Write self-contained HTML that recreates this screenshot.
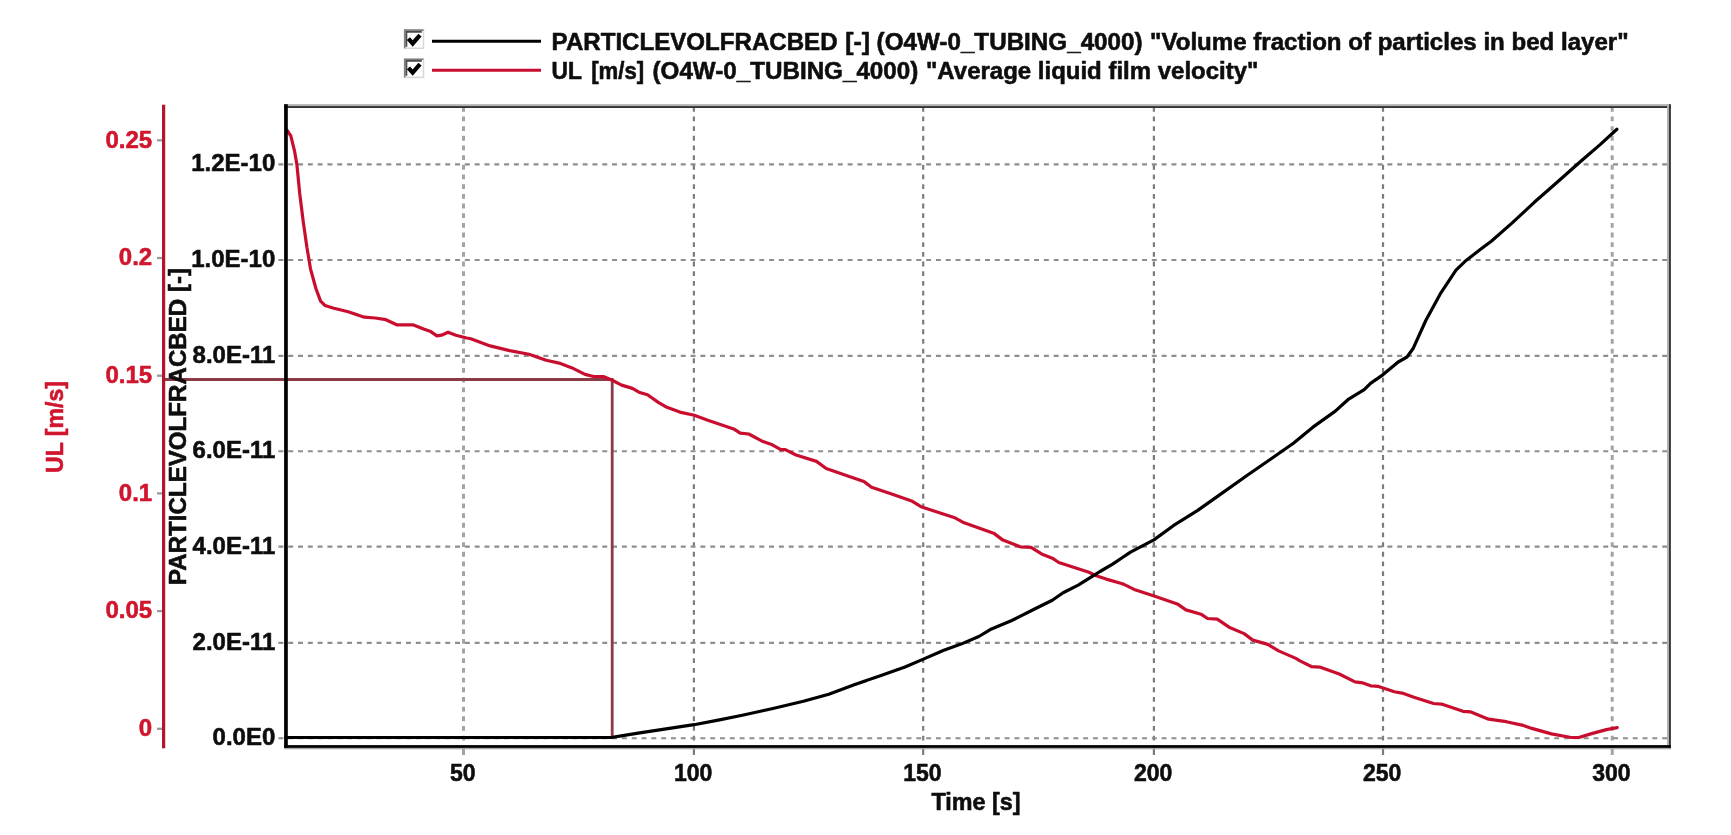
<!DOCTYPE html>
<html><head><meta charset="utf-8"><title>Chart</title>
<style>html,body{margin:0;padding:0;background:#fff}svg{display:block}text{font-family:"Liberation Sans",sans-serif;font-weight:bold;stroke-width:0.55px;paint-order:stroke;stroke-linejoin:round}</style></head><body>
<svg width="1731" height="835" viewBox="0 0 1731 835">
<defs><filter id="b" x="-5%" y="-5%" width="110%" height="110%"><feGaussianBlur stdDeviation="0.65"/></filter></defs>
<rect width="1731" height="835" fill="#fff"/>
<g filter="url(#b)">
<line x1="463.5" y1="106.8" x2="463.5" y2="745" stroke="#a4a4a4" stroke-width="3.0" stroke-dasharray="4.84 4.835"/>
<line x1="463.5" y1="747" x2="463.5" y2="755" stroke="#a4a4a4" stroke-width="3.0"/>
<line x1="693.9" y1="106.8" x2="693.9" y2="745" stroke="#7c7c7c" stroke-width="2.2" stroke-dasharray="4.84 4.835"/>
<line x1="693.9" y1="747" x2="693.9" y2="755" stroke="#7c7c7c" stroke-width="2.2"/>
<line x1="923.2" y1="106.8" x2="923.2" y2="745" stroke="#7c7c7c" stroke-width="2.2" stroke-dasharray="4.84 4.835"/>
<line x1="923.2" y1="747" x2="923.2" y2="755" stroke="#7c7c7c" stroke-width="2.2"/>
<line x1="1153.9" y1="106.8" x2="1153.9" y2="745" stroke="#7c7c7c" stroke-width="2.2" stroke-dasharray="4.84 4.835"/>
<line x1="1153.9" y1="747" x2="1153.9" y2="755" stroke="#7c7c7c" stroke-width="2.2"/>
<line x1="1383" y1="106.8" x2="1383" y2="745" stroke="#7c7c7c" stroke-width="2.2" stroke-dasharray="4.84 4.835"/>
<line x1="1383" y1="747" x2="1383" y2="755" stroke="#7c7c7c" stroke-width="2.2"/>
<line x1="1612.2" y1="106.8" x2="1612.2" y2="745" stroke="#a4a4a4" stroke-width="3.0" stroke-dasharray="4.84 4.835"/>
<line x1="1612.2" y1="747" x2="1612.2" y2="755" stroke="#a4a4a4" stroke-width="3.0"/>
<line x1="278.4" y1="738.3" x2="1668" y2="738.3" stroke="#8e8e8e" stroke-width="2.1" stroke-dasharray="4.95 4.864"/>
<line x1="278.4" y1="642.9" x2="1668" y2="642.9" stroke="#8e8e8e" stroke-width="2.1" stroke-dasharray="4.95 4.864"/>
<line x1="278.4" y1="546.6" x2="1668" y2="546.6" stroke="#8e8e8e" stroke-width="2.1" stroke-dasharray="4.95 4.864"/>
<line x1="278.4" y1="451.3" x2="1668" y2="451.3" stroke="#8e8e8e" stroke-width="2.1" stroke-dasharray="4.95 4.864"/>
<line x1="278.4" y1="355.9" x2="1668" y2="355.9" stroke="#8e8e8e" stroke-width="2.1" stroke-dasharray="4.95 4.864"/>
<line x1="278.4" y1="260.0" x2="1668" y2="260.0" stroke="#8e8e8e" stroke-width="2.1" stroke-dasharray="4.95 4.864"/>
<line x1="278.4" y1="164.4" x2="1668" y2="164.4" stroke="#8e8e8e" stroke-width="2.1" stroke-dasharray="4.95 4.864"/>
<line x1="163" y1="379.5" x2="613.5" y2="379.5" stroke="#8a3a44" stroke-width="2.8"/>
<line x1="612.2" y1="379.5" x2="612.2" y2="738" stroke="#8a3a44" stroke-width="2.8"/>
<path d="M287.2,130.5 L290.8,135.9 L294.4,150.3 L296.9,164.6 L299.7,193.4 L303.3,222.1 L306.9,247.2 L310.5,268.8 L315.9,288.5 L320.6,301.1 L324.9,305.4 L333.9,308.3 L348.2,311.8 L364.4,317.2 L375.2,318.0 L385.9,319.7 L396.7,324.8 L412.9,324.8 L423.6,329.1 L430.8,331.6 L436.9,335.9 L441.6,335.2 L448.0,332.3 L455.9,335.2 L466.7,338.0 L470.8,338.8 L490.2,345.9 L509.6,350.6 L529.0,354.3 L546.2,360.3 L559.1,363.1 L572.1,367.9 L585.0,374.4 L593.6,376.5 L603.3,376.5 L612.2,380.2 L621.6,385.1 L632.4,388.4 L638.9,392.2 L647.5,394.8 L658.3,402.4 L666.9,407.3 L679.8,412.1 L694.3,415.3 L707.8,420.3 L733.7,428.9 L740.2,433.2 L748.8,434.0 L761.6,440.9 L772.3,444.8 L780.9,449.6 L785.3,449.6 L796.0,455.0 L816.5,461.4 L826.2,468.5 L847.8,475.9 L863.9,481.5 L871.5,487.3 L890.9,493.8 L912.4,501.3 L921.0,506.7 L955.5,518.1 L964.1,522.8 L994.3,533.6 L1002.9,540.1 L1020.2,546.8 L1031.0,547.3 L1041.6,553.9 L1052.3,558.2 L1058.8,562.5 L1089.0,572.2 L1095.4,575.4 L1106.2,579.1 L1123.4,584.1 L1134.2,589.4 L1154.1,595.9 L1177.3,603.9 L1185.9,609.9 L1201.0,614.2 L1207.5,618.5 L1217.2,619.2 L1229.1,627.2 L1244.1,633.6 L1252.8,640.1 L1267.8,644.4 L1278.6,650.9 L1295.9,658.4 L1300.0,660.9 L1311.8,666.7 L1319.6,667.1 L1339.3,674.0 L1355.0,681.9 L1362.9,682.9 L1370.7,685.8 L1378.6,686.4 L1394.3,691.7 L1402.1,693.1 L1413.9,697.2 L1433.6,703.5 L1441.4,704.1 L1463.0,711.3 L1470.9,711.9 L1488.6,719.2 L1506.3,721.7 L1522.0,725.1 L1531.8,728.4 L1551.4,733.9 L1571.1,737.5 L1578.9,737.5 L1590.7,733.9 L1606.4,729.6 L1617.2,727.6" fill="none" stroke="#c8102e" stroke-width="3.2" stroke-linejoin="round" stroke-linecap="round"/>
<path d="M286.0,737.5 L611.7,737.5 L638.1,733.1 L666.1,728.8 L694.0,724.7 L719.5,719.9 L742.3,715.3 L772.9,708.5 L803.4,701.3 L828.8,694.2 L854.2,684.8 L879.6,675.9 L905.0,667.0 L922.8,659.4 L943.2,650.5 L961.0,644.1 L978.8,636.5 L991.5,628.9 L1011.8,620.5 L1020.0,616.4 L1035.1,608.8 L1052.3,600.2 L1063.1,592.7 L1078.2,585.1 L1095.4,574.4 L1100.0,571.5 L1112.2,564.4 L1130.5,552.1 L1153.9,539.9 L1173.3,525.7 L1197.7,510.4 L1222.1,493.1 L1246.6,475.8 L1273.0,457.5 L1293.4,443.2 L1312.6,427.4 L1335.3,411.1 L1347.9,399.7 L1364.2,389.7 L1370.5,383.4 L1383.1,374.6 L1398.2,362.0 L1407.0,357.0 L1413.3,348.2 L1425.8,320.5 L1440.9,292.8 L1456.0,270.2 L1466.1,260.4 L1481.2,248.8 L1491.3,241.3 L1512.2,222.9 L1534.3,202.3 L1556.3,183.0 L1581.1,161.0 L1600.4,144.4 L1616.9,129.3" fill="none" stroke="#000" stroke-width="3.2" stroke-linejoin="round" stroke-linecap="round"/>
<rect x="284.1" y="104.2" width="1386.8" height="1.9" fill="#b0b0b0"/>
<rect x="284.1" y="106.1" width="1386.8" height="1.9" fill="#333"/>
<rect x="1667" y="104.2" width="2" height="643.7" fill="#b0b0b0"/>
<rect x="1669" y="104.2" width="1.9" height="643.7" fill="#383838"/>
<rect x="284.1" y="104.2" width="3.7" height="643.7" fill="#000"/>
<rect x="284.1" y="747.7" width="1386.8" height="1.6" fill="#aaa"/>
<rect x="284.1" y="745.1" width="1386.8" height="2.8" fill="#050505"/>
<rect x="162" y="104.7" width="3.2" height="643.6" fill="#b3152b"/>
<line x1="157" y1="728.8" x2="162" y2="728.8" stroke="#9a9a9a" stroke-width="2.3"/>
<line x1="157" y1="611.1" x2="162" y2="611.1" stroke="#9a9a9a" stroke-width="2.3"/>
<line x1="157" y1="493.4" x2="162" y2="493.4" stroke="#9a9a9a" stroke-width="2.3"/>
<line x1="157" y1="375.7" x2="162" y2="375.7" stroke="#9a9a9a" stroke-width="2.3"/>
<line x1="157" y1="258" x2="162" y2="258" stroke="#9a9a9a" stroke-width="2.3"/>
<line x1="157" y1="140.3" x2="162" y2="140.3" stroke="#9a9a9a" stroke-width="2.3"/>
<text x="275.3" y="745.3" font-size="24" text-anchor="end" fill="#0a0a0a" stroke="#0a0a0a">0.0E0</text>
<text x="275.3" y="649.9" font-size="24" text-anchor="end" fill="#0a0a0a" stroke="#0a0a0a">2.0E-11</text>
<text x="275.3" y="553.6" font-size="24" text-anchor="end" fill="#0a0a0a" stroke="#0a0a0a">4.0E-11</text>
<text x="275.3" y="458.3" font-size="24" text-anchor="end" fill="#0a0a0a" stroke="#0a0a0a">6.0E-11</text>
<text x="275.3" y="362.9" font-size="24" text-anchor="end" fill="#0a0a0a" stroke="#0a0a0a">8.0E-11</text>
<text x="275.3" y="267.0" font-size="24" text-anchor="end" fill="#0a0a0a" stroke="#0a0a0a">1.0E-10</text>
<text x="275.3" y="171.4" font-size="24" text-anchor="end" fill="#0a0a0a" stroke="#0a0a0a">1.2E-10</text>
<text x="152.2" y="736.0" font-size="24" text-anchor="end" fill="#d0142c" stroke="#d0142c">0</text>
<text x="152.2" y="618.3000000000001" font-size="24" text-anchor="end" fill="#d0142c" stroke="#d0142c">0.05</text>
<text x="152.2" y="500.59999999999997" font-size="24" text-anchor="end" fill="#d0142c" stroke="#d0142c">0.1</text>
<text x="152.2" y="382.9" font-size="24" text-anchor="end" fill="#d0142c" stroke="#d0142c">0.15</text>
<text x="152.2" y="265.2" font-size="24" text-anchor="end" fill="#d0142c" stroke="#d0142c">0.2</text>
<text x="152.2" y="147.5" font-size="24" text-anchor="end" fill="#d0142c" stroke="#d0142c">0.25</text>
<text x="462.7" y="781" font-size="24" text-anchor="middle" fill="#0a0a0a" stroke="#0a0a0a" textLength="25.6" lengthAdjust="spacingAndGlyphs">50</text>
<text x="693.1" y="781" font-size="24" text-anchor="middle" fill="#0a0a0a" stroke="#0a0a0a" textLength="38.4" lengthAdjust="spacingAndGlyphs">100</text>
<text x="922.4000000000001" y="781" font-size="24" text-anchor="middle" fill="#0a0a0a" stroke="#0a0a0a" textLength="38.4" lengthAdjust="spacingAndGlyphs">150</text>
<text x="1153.1000000000001" y="781" font-size="24" text-anchor="middle" fill="#0a0a0a" stroke="#0a0a0a" textLength="38.4" lengthAdjust="spacingAndGlyphs">200</text>
<text x="1382.2" y="781" font-size="24" text-anchor="middle" fill="#0a0a0a" stroke="#0a0a0a" textLength="38.4" lengthAdjust="spacingAndGlyphs">250</text>
<text x="1611.4" y="781" font-size="24" text-anchor="middle" fill="#0a0a0a" stroke="#0a0a0a" textLength="38.4" lengthAdjust="spacingAndGlyphs">300</text>
<text x="976" y="809.5" font-size="24" text-anchor="middle" fill="#0a0a0a" stroke="#0a0a0a" textLength="89" lengthAdjust="spacingAndGlyphs">Time [s]</text>
<text transform="translate(63,427) rotate(-90)" font-size="24" text-anchor="middle" fill="#d0142c" stroke="#d0142c" textLength="92" lengthAdjust="spacingAndGlyphs">UL [m/s]</text>
<text transform="translate(185.6,426.5) rotate(-90)" font-size="23.2" text-anchor="middle" fill="#0a0a0a" stroke="#0a0a0a" textLength="317" lengthAdjust="spacingAndGlyphs">PARTICLEVOLFRACBED [-]</text>
<text x="551.6" y="50" font-size="24" fill="#0a0a0a" stroke="#0a0a0a" textLength="286.0" lengthAdjust="spacingAndGlyphs">PARTICLEVOLFRACBED</text>
<text x="845.2" y="50" font-size="24" fill="#0a0a0a" stroke="#0a0a0a" textLength="24.8" lengthAdjust="spacingAndGlyphs">[-]</text>
<text x="876.6" y="50" font-size="24" fill="#0a0a0a" stroke="#0a0a0a" textLength="266.0" lengthAdjust="spacingAndGlyphs">(O4W-0_TUBING_4000)</text>
<text x="1150" y="50" font-size="24" fill="#0a0a0a" stroke="#0a0a0a" textLength="478.6" lengthAdjust="spacingAndGlyphs">&quot;Volume fraction of particles in bed layer&quot;</text>
<text x="551.6" y="79" font-size="24" fill="#0a0a0a" stroke="#0a0a0a" textLength="30.4" lengthAdjust="spacingAndGlyphs">UL</text>
<text x="591.2" y="79" font-size="24" fill="#0a0a0a" stroke="#0a0a0a" textLength="53.0" lengthAdjust="spacingAndGlyphs">[m/s]</text>
<text x="652.5" y="79" font-size="24" fill="#0a0a0a" stroke="#0a0a0a" textLength="265.8" lengthAdjust="spacingAndGlyphs">(O4W-0_TUBING_4000)</text>
<text x="926" y="79" font-size="24" fill="#0a0a0a" stroke="#0a0a0a" textLength="332.4" lengthAdjust="spacingAndGlyphs">&quot;Average liquid film velocity&quot;</text>
<line x1="432" y1="41.2" x2="541" y2="41.2" stroke="#000" stroke-width="3"/>
<line x1="432" y1="70.2" x2="541" y2="70.2" stroke="#c8102e" stroke-width="3"/>
<rect x="404.7" y="30.1" width="18.8" height="18.2" fill="#fff" stroke="#d8d8d8" stroke-width="1.5"/>
<path d="M404.7,48.3 V30.1 H423.5" fill="none" stroke="#808080" stroke-width="1.6"/>
<path d="M406.4,46.7 V31.8 H421.8" fill="none" stroke="#484848" stroke-width="1.8"/>
<path d="M408.4,38.7 L412.7,43.5 L420,35.1" fill="none" stroke="#000" stroke-width="4.2" stroke-linejoin="miter"/>
<rect x="404.7" y="59.2" width="18.8" height="18.2" fill="#fff" stroke="#d8d8d8" stroke-width="1.5"/>
<path d="M404.7,77.4 V59.2 H423.5" fill="none" stroke="#808080" stroke-width="1.6"/>
<path d="M406.4,75.80000000000001 V60.900000000000006 H421.8" fill="none" stroke="#484848" stroke-width="1.8"/>
<path d="M408.4,67.8 L412.7,72.60000000000001 L420,64.2" fill="none" stroke="#000" stroke-width="4.2" stroke-linejoin="miter"/>
</g></svg></body></html>
